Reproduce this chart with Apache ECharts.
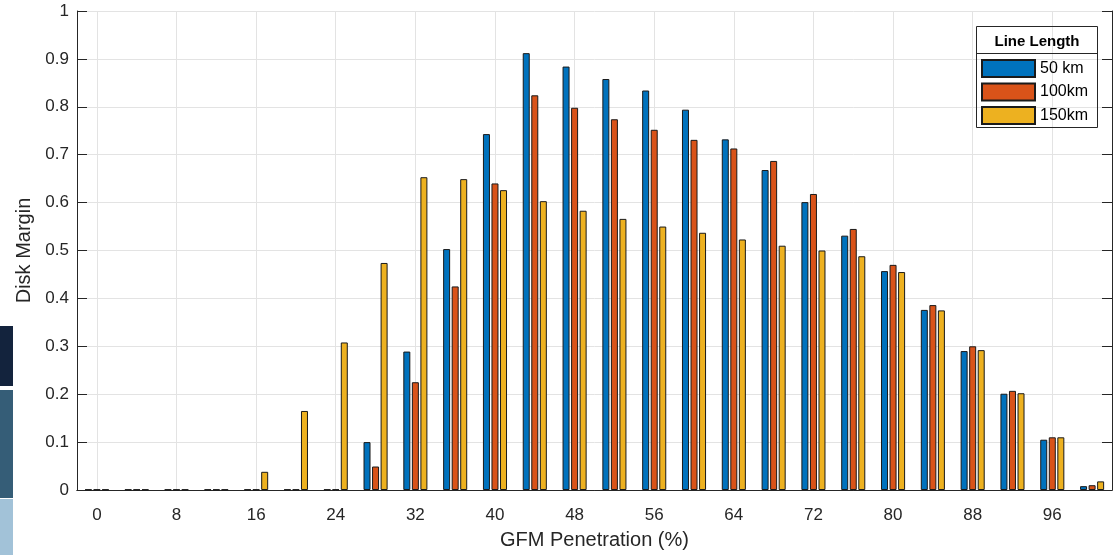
<!DOCTYPE html>
<html lang="en">
<head>
  <meta charset="UTF-8">
  <title>Disk Margin vs GFM Penetration</title>
  <script src="https://cdn.jsdelivr.net/npm/echarts@6/dist/echarts.min.js"></script>
  <style>
    html, body, #chart {
      width: 100%;
      height: 100%;
      margin: 0;
      padding: 0;
      background: #fff;
    }
  </style>
</head>
<body>
  <div id="chart"></div>
  <script>
    // GFM penetration groups (%)
    const penetration = ['0', '4', '8', '12', '16', '20', '24', '28', '32', '36', '40', '44', '48',
      '52', '56', '60', '64', '68', '72', '76', '80', '84', '88', '92', '96', '100']
    const seriesNames = ['50 km', '100km', '150km']
    const km50 = [0.001, 0.001, 0.001, 0.001, 0.001, 0.001, 0.001, 0.100, 0.289, 0.503, 0.743, 0.912, 0.884,
      0.858, 0.834, 0.794, 0.732, 0.668, 0.601, 0.531, 0.457, 0.376, 0.290, 0.201, 0.105, 0.008]
    const km100 = [0.001, 0.001, 0.001, 0.001, 0.001, 0.001, 0.001, 0.049, 0.225, 0.425, 0.640, 0.824, 0.798,
      0.774, 0.752, 0.731, 0.713, 0.687, 0.618, 0.545, 0.470, 0.386, 0.300, 0.207, 0.110, 0.010]
    const km150 = [0.001, 0.001, 0.001, 0.001, 0.038, 0.165, 0.308, 0.474, 0.653, 0.649, 0.626, 0.603, 0.583,
      0.566, 0.550, 0.537, 0.523, 0.510, 0.500, 0.488, 0.455, 0.375, 0.292, 0.202, 0.110, 0.018]
    const colors = ['#0072BD', '#D95319', '#EDB120']

    const font = 'Liberation Sans, Arial, Helvetica, sans-serif'
    const ink = '#262626'
    const chart = echarts.init(document.getElementById('chart'))

    const makeBar = (name, data, i) => ({
      name,
      type: 'bar',
      data,
      barWidth: 7,
      barGap: '22%',
      itemStyle: { color: colors[i], borderColor: '#1a1a1a', borderWidth: 1 },
      emphasis: { disabled: true }
    })

    chart.setOption({
      animation: false,
      textStyle: { fontFamily: font, color: ink },
      grid: { left: 77, right: 8, top: 11, bottom: 60 },
      title: {
        text: 'Line Length',
        left: 1037,
        top: 34,
        textAlign: 'center',
        padding: 0,
        textStyle: { fontFamily: font, fontSize: 15, fontWeight: 'bold', color: '#000' }
      },
      legend: {
        data: seriesNames,
        orient: 'vertical',
        left: 981,
        top: 59,
        padding: 0,
        itemWidth: 53,
        itemHeight: 17,
        itemGap: 4.5,
        icon: 'rect',
        textStyle: { fontFamily: font, fontSize: 16, lineHeight: 17, color: '#000' },
        selectedMode: false
      },
      graphic: [
        { type: 'rect', shape: { x: 976.5, y: 26.5, width: 121, height: 101 },
          style: { fill: 'none', stroke: '#262626', lineWidth: 1 }, z: 10 },
        { type: 'line', shape: { x1: 976.5, y1: 53.5, x2: 1097.5, y2: 53.5 },
          style: { stroke: '#262626', lineWidth: 1 }, z: 10 },
        { type: 'rect', shape: { x: 0, y: 326, width: 13, height: 60 }, style: { fill: '#13233d' } },
        { type: 'rect', shape: { x: 0, y: 390, width: 13, height: 108 }, style: { fill: '#355d77' } },
        { type: 'rect', shape: { x: 0, y: 499, width: 13, height: 56 }, style: { fill: '#a2c2d8' } }
      ],
      xAxis: [
        {
          type: 'category',
          data: penetration,
          name: 'GFM Penetration (%)',
          nameLocation: 'middle',
          nameGap: 40,
          nameTextStyle: { fontFamily: font, fontSize: 20, color: ink },
          axisLine: { lineStyle: { color: ink, width: 1 } },
          axisTick: { inside: true, length: 10, interval: 1, alignWithLabel: true, lineStyle: { color: ink } },
          axisLabel: { interval: 1, margin: 17, fontSize: 17, color: ink, fontFamily: font },
          splitLine: { show: true, interval: 1, alignWithLabel: true, lineStyle: { color: '#e3e3e3', width: 1 } }
        },
        {
          type: 'category',
          data: penetration,
          position: 'top',
          axisLine: { lineStyle: { color: ink, width: 1 } },
          axisTick: { inside: true, length: 10, interval: 1, alignWithLabel: true, lineStyle: { color: ink } },
          axisLabel: { show: false },
          splitLine: { show: false }
        }
      ],
      yAxis: [
        {
          type: 'value',
          min: 0,
          max: 1,
          interval: 0.1,
          name: 'Disk Margin',
          nameLocation: 'middle',
          nameGap: 41,
          nameTextStyle: { fontFamily: font, fontSize: 20, color: ink },
          axisLine: { show: true, lineStyle: { color: ink, width: 1 } },
          axisTick: { show: true, inside: true, length: 10, lineStyle: { color: ink } },
          axisLabel: { margin: 8, fontSize: 17, color: ink, fontFamily: font },
          splitLine: { show: true, lineStyle: { color: '#e3e3e3', width: 1 } }
        },
        {
          type: 'value',
          min: 0,
          max: 1,
          interval: 0.1,
          position: 'right',
          axisLine: { show: true, lineStyle: { color: ink, width: 1 } },
          axisTick: { show: true, inside: true, length: 10, lineStyle: { color: ink } },
          axisLabel: { show: false },
          splitLine: { show: false }
        }
      ],
      series: [
        makeBar(seriesNames[0], km50, 0),
        makeBar(seriesNames[1], km100, 1),
        makeBar(seriesNames[2], km150, 2)
      ]
    })
  </script>
</body>
</html>
